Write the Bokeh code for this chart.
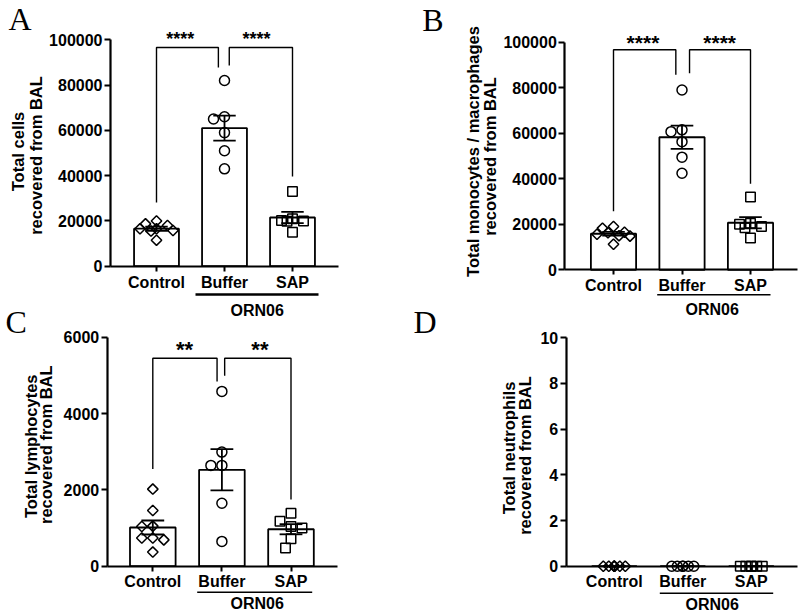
import numpy as np
from math import pi, hypot
from bokeh.plotting import figure
from bokeh.models import Range1d, FixedTicker, Label, BasicTickFormatter
from bokeh.layouts import row, column
from bokeh.embed import file_html
from bokeh.resources import INLINE

# ---------------- data ----------------
groups = ["Control", "Buffer", "SAP"]
treatment = "ORN06"

cells_control = [18700, 16500, 20000, 15800, 15500, 18000, 16500, 11500]
cells_buffer = [82000, 66000, 65000, 59000, 51000, 43000]
cells_sap = [33000, 21000, 19900, 20200, 20000, 15000]

mono_control = [18300, 16300, 19000, 14800, 15000, 15600, 16500, 11200]
mono_buffer = [79000, 60700, 61500, 56300, 49500, 42400]
mono_sap = [32000, 20500, 18500, 19000, 20000, 14000]

lymph_control = [2020, 1460, 1050, 1040, 740, 690, 740, 370]
lymph_buffer = [4580, 2990, 2640, 2640, 1650, 650]
lymph_sap = [1390, 1040, 1000, 1180, 720, 480]

neut_control = [0, 0, 0, 0, 0, 0, 0, 0]
neut_buffer = [0, 0, 0, 0, 0, 0]
neut_sap = [0, 0, 0, 0, 0, 0]

yticks_cells = [0, 20000, 40000, 60000, 80000, 100000]
yticks_mono = [0, 20000, 40000, 60000, 80000, 100000]
yticks_lymph = [0, 2000, 4000, 6000]
yticks_neut = [0, 2, 4, 6, 8, 10]

sig_cells = ["****", "****"]
sig_mono = ["****", "****"]
sig_lymph = ["**", "**"]

# bracket levels: top, Control leg end, Buffer leg end (left), Buffer leg end (right), SAP leg end
brk_cells = [96600, 28100, 87800, 88600, 39600]
brk_mono = [96700, 25700, 85700, 86400, 37800]
brk_lymph = [5450, 2550, 4840, 4990, 1750]

title_cells = ["Total cells", "recovered from BAL"]
title_mono = ["Total monocytes / macrophages", "recovered from BAL"]
title_lymph = ["Total lymphocytes", "recovered from BAL"]
title_neut = ["Total neutrophils", "recovered from BAL"]

# ---------------- style ----------------
FONT = "Liberation Sans"
SERIF = "Liberation Serif"
MARKERS = [dict(marker="square", size=7.4, angle=pi / 4),
           dict(marker="circle", size=10, angle=0),
           dict(marker="square", size=9.5, angle=0)]


def swarm(vals, sy, sx, max_slots, step=5.5, thresh=10.0):
    order = sorted(range(len(vals)), key=lambda i: -vals[i])
    cands = [0.0]
    for k in range(1, max_slots + 1):
        cands += [-k * step, k * step]
    placed, offs = [], [0.0] * len(vals)
    for i in order:
        y = vals[i] * sy
        best, bestd = None, -1.0
        for c in cands:
            d = min((hypot(c - px, y - py) for px, py in placed), default=1e9)
            if d >= thresh:
                best = c
                break
            if d > bestd:
                best, bestd = c, d
        placed.append((best, y))
        offs[i] = best / sx
    return offs


def text_label(x, y, text, size, align="center", baseline="middle", angle=0.0, font=FONT,
               style="bold"):
    return Label(x=x, y=y, text=text, angle=angle, angle_units="rad", text_align=align,
                 text_baseline=baseline, text_font=font, text_font_style=style,
                 text_font_size=size, text_color="black")


def build(cfg):
    W, H = cfg["W"], cfg["H"]
    cx0, sx, y0px, sy = cfg["cx0"], cfg["sx"], cfg["y0px"], cfg["sy"]

    def dx(fx):
        return (fx - cx0) / sx

    def dy(fy):
        return (y0px - fy) / sy

    p = figure(width=W, height=H,
               x_range=Range1d(dx(0), dx(W)), y_range=Range1d(dy(H), dy(0)),
               min_border_left=0, min_border_right=0, min_border_top=0, min_border_bottom=0,
               toolbar_location=None, output_backend="svg")
    p.grid.visible = False
    p.outline_line_color = None
    p.background_fill_color = "white"
    p.border_fill_color = "white"

    xa, ya = p.xaxis[0], p.yaxis[0]
    for ax in (xa, ya):
        ax.axis_line_width = 2.2
        ax.axis_line_color = "black"
        ax.major_tick_line_width = 2
        ax.major_tick_line_color = "black"
        ax.major_tick_in = 0
        ax.minor_tick_line_color = None
        ax.major_label_text_font = FONT
        ax.major_label_text_font_style = "bold"
        ax.major_label_text_font_size = "16px"
        ax.major_label_text_color = "black"
    ax_x0, ax_x1 = dx(cfg["axis_px"][0]), dx(cfg["axis_px"][1])
    ya.fixed_location = ax_x0
    ya.ticker = FixedTicker(ticks=cfg["yticks"])
    ya.formatter = BasicTickFormatter(use_scientific=False)
    ya.bounds = (cfg["yticks"][0], cfg["yticks"][-1])
    ya.major_tick_out = 6
    ya.major_label_standoff = 2
    xa.fixed_location = 0
    xa.bounds = (ax_x0, ax_x1)
    xa.ticker = FixedTicker(ticks=list(range(len(groups))))
    xa.major_label_overrides = {i: g for i, g in enumerate(groups)}
    xa.major_tick_out = 5
    xa.major_label_standoff = cfg["xstand"]

    series = cfg["series"]
    idx = list(range(len(groups)))
    means = [float(np.mean(v)) for v in series]
    sems = [float(np.std(v, ddof=1) / np.sqrt(len(v))) for v in series]
    p.vbar(x=idx, top=means, bottom=0, width=0.66, fill_color="white",
           line_color="black", line_width=1.8)

    for gi, vals in enumerate(series):
        mk = MARKERS[gi]
        offs = swarm(vals, sy, sx, cfg["max_slots"])
        p.scatter(x=[gi + o for o in offs], y=vals, marker=mk["marker"], size=mk["size"],
                  angle=mk["angle"], fill_alpha=0, line_color="black", line_width=1.5)

    hi = [m + s for m, s in zip(means, sems)]
    lo = [m - s for m, s in zip(means, sems)]
    cw = 0.165
    p.segment(x0=idx, y0=lo, x1=idx, y1=hi, line_color="black", line_width=1.8)
    p.segment(x0=[i - cw for i in idx], y0=hi, x1=[i + cw for i in idx], y1=hi,
              line_color="black", line_width=1.8)
    p.segment(x0=[i - cw for i in idx], y0=lo, x1=[i + cw for i in idx], y1=lo,
              line_color="black", line_width=1.8)

    if cfg.get("brk"):
        top, c, b1, b2, s = cfg["brk"]
        xl0, xl1, xr0, xr1 = cfg["brk_x"]
        p.multi_line(xs=[[xl0, xl0, xl1, xl1], [xr0, xr0, xr1, xr1]],
                     ys=[[c, top, top, b1], [b2, top, top, s]],
                     line_color="black", line_width=1.4)
        for txt, sxp in zip(cfg["sig"], cfg["star_x"]):
            p.add_layout(text_label(sxp, dy(cfg["star_fy"]), txt, cfg["star_fs"],
                                    baseline="alphabetic"))

    # panel letter
    lt, lfx, lfy = cfg["letter"]
    p.add_layout(text_label(dx(lfx), dy(lfy), lt, "32px", align="left", font=SERIF,
                            style="normal"))
    # y axis title lines
    for txt, fx, fy in cfg["titles"]:
        p.add_layout(text_label(dx(fx), dy(fy), txt, "16.5px", angle=pi / 2))
    # treatment underline
    ux0, ux1, uy, ut = cfg["underline"]
    p.segment(x0=[dx(ux0)], y0=[dy(uy)], x1=[dx(ux1)], y1=[dy(uy)],
              line_color="black", line_width=ut)
    for fx, fy in cfg.get("treat_labels", []):
        p.add_layout(text_label(dx(fx), dy(fy), treatment, "16px"))
    return p


# geometry in each figure's own pixels (top-left origin)
cfgA = dict(W=400, H=302, cx0=156, sx=68, y0px=265.7, sy=226.4 / 100000,
            axis_px=(110, 338), xstand=3, yticks=yticks_cells,
            series=[cells_control, cells_buffer, cells_sap], max_slots=3,
            brk=brk_cells, brk_x=(0, 0.91, 1.07, 2.0), sig=sig_cells,
            star_x=(0.35, 1.47), star_fy=38.5, star_fs="18px",
            letter=("A", 8, 18.5),
            titles=[(title_cells[0], 17, 151), (title_cells[1], 35.3, 155)],
            underline=(195, 318, 294, 2.4))

cfgB = dict(W=399, H=302, cx0=213, sx=68.5, y0px=269.3, sy=227.6 / 100000,
            axis_px=(164.3, 396.7), xstand=2, yticks=yticks_mono,
            series=[mono_control, mono_buffer, mono_sap], max_slots=3,
            brk=brk_mono, brk_x=(0, 0.91, 1.11, 2.0), sig=sig_mono,
            star_x=(0.43, 1.55), star_fy=41.8, star_fs="21px",
            letter=("B", 21.7, 19),
            titles=[(title_mono[0], 72, 151), (title_mono[1], 89, 156)],
            underline=(256.7, 370, 294.3, 1.4))

cfgC = dict(W=400, H=310, cx0=152.3, sx=69.1, y0px=263.7, sy=229 / 6000,
            axis_px=(106.7, 336.7), xstand=2, yticks=yticks_lymph,
            series=[lymph_control, lymph_buffer, lymph_sap], max_slots=3,
            brk=brk_lymph, brk_x=(0, 0.93, 1.04, 2.0), sig=sig_lymph,
            star_x=(0.46, 1.55), star_fy=46.5, star_fs="22px",
            letter=("C", 5, 19),
            titles=[(title_lymph[0], 30.3, 143.8), (title_lymph[1], 45.8, 142.2)],
            underline=(196.7, 311.7, 289.7, 1.4),
            treat_labels=[(256.7, 301.3), (256.7, 7.5)])

cfgD = dict(W=399, H=310, cx0=213.8, sx=68.5, y0px=263.7, sy=22.84,
            axis_px=(165.7, 396.7), xstand=2, yticks=yticks_neut,
            series=[neut_control, neut_buffer, neut_sap], max_slots=2,
            letter=("D", 13, 19),
            titles=[(title_neut[0], 108.8, 145.5), (title_neut[1], 124.2, 153)],
            underline=(259.3, 372.7, 290.7, 1.4),
            treat_labels=[(311.7, 301.8), (311.7, 7)])

pA, pB, pC, pD = build(cfgA), build(cfgB), build(cfgC), build(cfgD)
layout = column(row(pA, pB), row(pC, pD))
open("out.html", "w").write(file_html(layout, INLINE, title="BAL cell counts"))
